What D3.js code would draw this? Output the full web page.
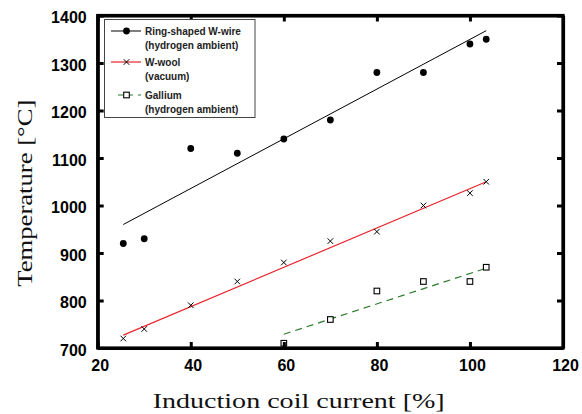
<!DOCTYPE html>
<html><head><meta charset="utf-8">
<script src="https://cdn.jsdelivr.net/npm/d3@7"></script>
<style>body{margin:0;background:#fff}svg{display:block}</style>
</head><body>
<svg id="c" width="582" height="414"></svg>
<script>
const currentW = [25.5, 30, 40, 50, 60, 70, 80, 90, 100, 103.5];
const tempWire = [920, 930, 1120, 1110, 1140, 1180, 1280, 1280, 1340, 1350];
const tempWool = [720, 740, 790, 840, 880, 925, 945, 1000, 1026, 1050];
const currentGa = [60, 70, 80, 90, 100, 103.5];
const tempGa = [710, 760, 820, 840, 840, 870];
const fitWire = [[25.5, 960], [103.5, 1368]];
const fitWool = [[25.5, 727], [103.5, 1050]];
const fitGa = [[60, 729], [103.5, 868]];
const xTicks = [20, 40, 60, 80, 100, 120];
const yTicks = [700, 800, 900, 1000, 1100, 1200, 1300, 1400];
const legendLabels = [["Ring-shaped W-wire", "(hydrogen ambient)"], ["W-wool", "(vacuum)"], ["Gallium", "(hydrogen ambient)"]];

const svg = d3.select("#c");
const L = 97.7, R = 563, T = 15.5, B = 348;
const x = d3.scaleLinear().domain([20, 120]).range([L, R]);
const y = d3.scaleLinear().domain([700, 1400]).range([B, T]);
const line = d3.line().x(d => x(d[0])).y(d => y(d[1]));

// fit lines
svg.append("path").attr("d", line(fitWire)).attr("fill", "none").attr("stroke", "#000").attr("stroke-width", 1);
svg.append("path").attr("d", line(fitWool)).attr("fill", "none").attr("stroke", "#e8242a").attr("stroke-width", 1.2);
svg.append("path").attr("d", line(fitGa)).attr("fill", "none").attr("stroke", "#2a7a2a").attr("stroke-width", 1.2).attr("stroke-dasharray", "7,5");

// markers
svg.append("g").selectAll("circle").data(currentW.map((c, i) => [c, tempWire[i]])).join("circle")
  .attr("cx", d => x(d[0])).attr("cy", d => y(d[1])).attr("r", 3.4).attr("fill", "#000");
const xm = 2.8;
svg.append("g").selectAll("path").data(currentW.map((c, i) => [c, tempWool[i]])).join("path")
  .attr("d", d => { const cx = x(d[0]), cy = y(d[1]); return `M${cx-xm},${cy-xm}L${cx+xm},${cy+xm}M${cx-xm},${cy+xm}L${cx+xm},${cy-xm}`; })
  .attr("stroke", "#000").attr("stroke-width", 1);
svg.append("g").selectAll("rect").data(currentGa.map((c, i) => [c, tempGa[i]])).join("rect")
  .attr("x", d => x(d[0]) - 2.8).attr("y", d => y(d[1]) - 2.8).attr("width", 5.6).attr("height", 5.6)
  .attr("fill", "#fff").attr("stroke", "#000").attr("stroke-width", 1.1);

// axes
const tl = 6;
const fmt = d3.format("d");
const axB = svg.append("g").attr("transform", `translate(0,${B})`).call(d3.axisBottom(x).tickValues(xTicks).tickFormat(fmt).tickSizeInner(-tl).tickSizeOuter(0));
const axT = svg.append("g").attr("transform", `translate(0,${T})`).call(d3.axisTop(x).tickValues(xTicks).tickSizeInner(-tl).tickSizeOuter(0).tickFormat(""));
const axL = svg.append("g").attr("transform", `translate(${L},0)`).call(d3.axisLeft(y).tickValues(yTicks).tickFormat(fmt).tickSizeInner(-tl).tickSizeOuter(0));
const axR = svg.append("g").attr("transform", `translate(${R},0)`).call(d3.axisRight(y).tickValues(yTicks).tickSizeInner(-tl).tickSizeOuter(0).tickFormat(""));
[axB, axT, axL, axR].forEach(a => {
  a.select(".domain").attr("stroke", "#000").attr("stroke-width", 3.2);
  a.selectAll(".tick line").attr("stroke", "#000").attr("stroke-width", 3);
  a.selectAll("text").attr("font-family", "Liberation Sans, Arial, sans-serif").attr("font-weight", "bold").attr("font-size", 16).attr("fill", "#000");
});
axB.selectAll(".tick text").attr("y", 17.5).attr("dy", "0.36em").attr("dx", 2);
axL.selectAll(".tick text").attr("x", -11).attr("dy", "0.45em");
// square corners
svg.append("rect").attr("x", L).attr("y", T).attr("width", R - L).attr("height", B - T)
  .attr("fill", "none").attr("stroke", "#000").attr("stroke-width", 3.2);

// axis titles
svg.append("text").attr("x", 152.7).attr("y", 408)
  .attr("textLength", 292).attr("lengthAdjust", "spacingAndGlyphs")
  .attr("font-family", "Liberation Serif, Times New Roman, serif").attr("font-size", 22).attr("fill", "#111").text("Induction coil current [%]");
svg.append("text").attr("transform", `translate(31.5,286.7) rotate(-90)`)
  .attr("textLength", 187).attr("lengthAdjust", "spacingAndGlyphs")
  .attr("font-family", "Liberation Serif, Times New Roman, serif").attr("font-size", 22).attr("fill", "#111").text("Temperature [\u00B0C]");

// legend
const lg = svg.append("g");
lg.append("rect").attr("x", 104.5).attr("y", 19.5).attr("width", 150.5).attr("height", 98)
  .attr("fill", "#fff").attr("stroke", "#444").attr("stroke-width", 1);
const rows = [31, 62, 95];
const lx0 = 111, lx1 = 141, mx = 126.5;
lg.append("line").attr("x1", lx0).attr("x2", lx1).attr("y1", rows[0]).attr("y2", rows[0]).attr("stroke", "#000").attr("stroke-width", 1);
lg.append("circle").attr("cx", mx).attr("cy", rows[0]).attr("r", 3.4).attr("fill", "#000");
lg.append("line").attr("x1", lx0).attr("x2", lx1).attr("y1", rows[1]).attr("y2", rows[1]).attr("stroke", "#e8242a").attr("stroke-width", 1.2);
lg.append("path").attr("d", `M${mx-xm},${rows[1]-xm}L${mx+xm},${rows[1]+xm}M${mx-xm},${rows[1]+xm}L${mx+xm},${rows[1]-xm}`).attr("stroke", "#000").attr("stroke-width", 1);
lg.append("line").attr("x1", 118).attr("x2", lx1).attr("y1", rows[2]).attr("y2", rows[2]).attr("stroke", "#2a7a2a").attr("stroke-width", 1.2).attr("stroke-dasharray", "5,5");
lg.append("rect").attr("x", mx - 2.8).attr("y", rows[2] - 2.8).attr("width", 5.6).attr("height", 5.6).attr("fill", "#fff").attr("stroke", "#000").attr("stroke-width", 1.1);
legendLabels.forEach((lab, i) => {
  const t = lg.append("text").attr("x", 145).attr("y", rows[i] + 3.5)
    .attr("font-family", "Liberation Sans, Arial, sans-serif").attr("font-weight", "bold").attr("font-size", 10).attr("fill", "#222");
  t.append("tspan").attr("x", 145).text(lab[0]);
  t.append("tspan").attr("x", 145).attr("dy", 14).text(lab[1]);
});
</script>
</body></html>
